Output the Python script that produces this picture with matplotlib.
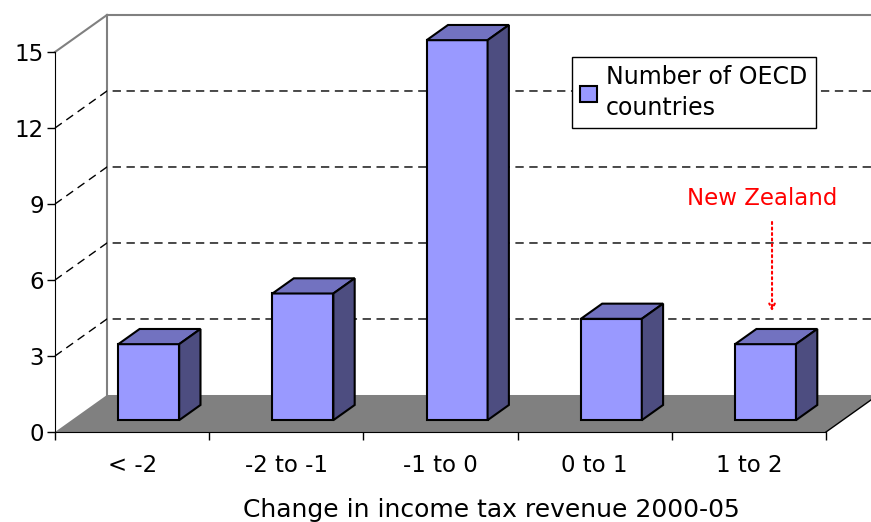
import numpy as np
import matplotlib.pyplot as plt
from matplotlib.patches import Polygon

# dados
categorias = ['< -2', '-2 to -1', '-1 to 0', '0 to 1', '1 to 2']
paises = [3, 5, 15, 4, 3]
grade = [3, 6, 9, 12]

# cores
frente = '#9999ff'
topo = '#7272c0'
lado = '#4d4d80'

plt.rcParams['font.family'] = 'DejaVu Sans'

fig = plt.figure(figsize=(8.71, 5.22), dpi=100)
ax = fig.add_axes([55 / 871, 90 / 522, 771 / 871, 380 / 522])
ax.set_xlim(0, 5)
ax.set_ylim(0, 15)

# profundidade do "3D" em unidades dos dados
DX, DY = 0.337, 1.461
f1, f2 = 0.32, 0.73

# chao cinza
ax.add_patch(Polygon([(0, 0), (5, 0), (5 + DX, DY), (DX, DY)], closed=True,
                     facecolor='#808080', edgecolor='none', zorder=1, clip_on=False))
ax.plot([5, 5 + DX], [0, DY], color='black', lw=1, zorder=1.5, clip_on=False)

# parede do fundo
ax.plot([DX, DX], [DY, 15 + DY], color='#808080', lw=1.5, zorder=1, clip_on=False)
ax.plot([0, DX], [15, 15 + DY], color='#808080', lw=1.5, zorder=1, clip_on=False)
ax.plot([DX, 5 + DX + 0.5], [15 + DY, 15 + DY], color='#808080', lw=1.5, zorder=1, clip_on=False)

# linhas de grade tracejadas
for v in grade:
    ax.plot([0, DX, 5 + DX + 0.5], [v, v + DY, v + DY], color='black', lw=1,
            dashes=(6, 4), zorder=1, clip_on=False)

# barras
x = np.arange(len(paises)) + 0.5
w = 0.395
bx = x + f1 * DX
by = f1 * DY
bdx = (f2 - f1) * DX
bdy = (f2 - f1) * DY
barras = ax.bar(bx, paises, width=w, bottom=by, color=frente, edgecolor='black',
                linewidth=1.5, zorder=3, clip_on=False, label='Number of OECD\ncountries')
for xc, v in zip(bx, paises):
    x0, x1 = xc - w / 2, xc + w / 2
    ax.add_patch(Polygon([(x0, by + v), (x1, by + v), (x1 + bdx, by + v + bdy), (x0 + bdx, by + v + bdy)],
                         closed=True, facecolor=topo, edgecolor='black', lw=1.5, zorder=3, clip_on=False))
    ax.add_patch(Polygon([(x1, by), (x1 + bdx, by + bdy), (x1 + bdx, by + v + bdy), (x1, by + v)],
                         closed=True, facecolor=lado, edgecolor='black', lw=1.5, zorder=3, clip_on=False))

# eixos
for s in ['top', 'right']:
    ax.spines[s].set_visible(False)
ax.spines['left'].set_zorder(4)
ax.spines['bottom'].set_zorder(4)
ax.patch.set_visible(False)
ax.set_yticks([0, 3, 6, 9, 12, 15])
ax.tick_params(axis='y', labelsize=16.5, length=6, width=1, pad=2)
ax.set_xticks(range(6))
ax.set_xticklabels([])
ax.set_xticks(x, minor=True)
ax.set_xticklabels(categorias, minor=True)
ax.tick_params(axis='x', which='major', length=6, width=1)
ax.tick_params(axis='x', which='minor', length=0, labelsize=16.5, pad=16)
ax.set_xlabel('Change in income tax revenue 2000-05', fontsize=18, va='baseline')
ax.xaxis.set_label_coords((491 - 55) / 771, (432 - 517) / 380)

# anotacao Nova Zelandia
ax.annotate('', xy=(4.65, 4.65), xytext=(4.65, 8.4),
            arrowprops=dict(arrowstyle='->', color='red', lw=1.5, linestyle=':'), zorder=5)
ax.text(4.585, 9.2, 'New Zealand', color='red', fontsize=16.5, ha='center', va='center')

leg = ax.legend(handles=[barras], loc='upper left', bbox_to_anchor=(572 / 871, 1 - 57 / 522),
                bbox_transform=fig.transFigure, borderaxespad=0, fontsize=17, frameon=True,
                fancybox=False, edgecolor='black', framealpha=1, handlelength=0.7,
                handleheight=0.7, handletextpad=0.4, borderpad=0.35)
leg.get_texts()[0].set_linespacing(1.35)
leg.get_frame().set_linewidth(1)
leg.set_zorder(6)

fig.savefig('out.png', dpi=100)
